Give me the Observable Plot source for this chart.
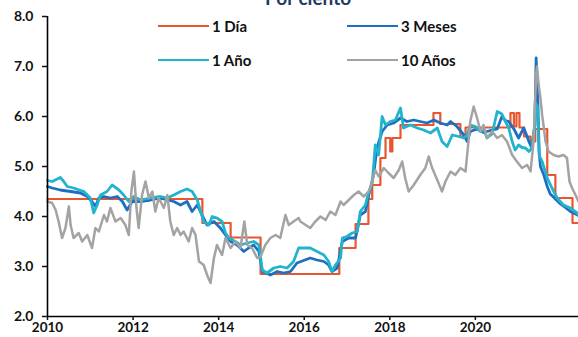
<!DOCTYPE html>
<html>
<head>
<meta charset="utf-8">
<script src="https://cdn.jsdelivr.net/npm/d3@7"></script>
<script src="https://cdn.jsdelivr.net/npm/@observablehq/plot@0.6"></script>
<style>
  html, body { margin: 0; padding: 0; background: #fff; }
  #wrap { position: relative; width: 578px; height: 337px; overflow: hidden; font-family: Lato, "DejaVu Sans", sans-serif; }
  .title { position: absolute; left: 0; width: 616px; text-align: center; top: -12px; font-size: 19px; font-weight: 700; color: #1f3864; line-height: 19px; }
  .lg-line { position: absolute; height: 2px; width: 51px; }
  .lg-text { position: absolute; font-size: 15px; font-weight: 700; color: #111; line-height: 18px; }
</style>
</head>
<body>
<div id="wrap">
  <div id="chart"></div>
  <div class="title">Por ciento</div>
  <div id="legend"></div>
</div>
<script>
// ---- data (year, percent) ----
const seriesNames = ["1 Día", "3 Meses", "1 Año", "10 Años"];
const seriesColors = ["#e8552f", "#1f6fc0", "#22b4cc", "#a3a3a3"];
const yTicks = [2, 3, 4, 5, 6, 7, 8];
const xTicks = [2010, 2012, 2014, 2016, 2018, 2020];

const dia1 = [
  [2010.00, 4.35], [2013.62, 3.87], [2014.28, 3.58], [2014.98, 2.85], [2016.82, 3.37],
  [2017.20, 3.85], [2017.50, 4.35], [2017.59, 4.63], [2017.78, 5.17], [2017.90, 5.57],
  [2018.01, 5.30], [2018.06, 5.57], [2018.25, 5.83], [2019.02, 6.07], [2019.18, 5.85],
  [2019.65, 5.60], [2019.77, 5.78], [2020.82, 6.07], [2020.90, 5.80], [2020.96, 6.07],
  [2021.03, 5.78], [2021.14, 5.60], [2021.29, 5.50], [2021.40, 5.75], [2021.68, 4.83],
  [2021.87, 4.37], [2022.27, 3.87], [2022.41, 3.87]
];

const meses3 = [
  [2010.00, 4.60], [2010.11, 4.57], [2010.30, 4.53], [2010.54, 4.50], [2010.77, 4.47], [2010.93, 4.40],
  [2011.04, 4.30], [2011.12, 4.20], [2011.20, 4.37], [2011.32, 4.40], [2011.47, 4.37],
  [2011.63, 4.40], [2011.75, 4.30], [2011.86, 4.13], [2011.98, 4.30], [2012.17, 4.30],
  [2012.41, 4.33], [2012.64, 4.37], [2012.80, 4.33], [2012.95, 4.30], [2013.11, 4.23],
  [2013.26, 4.30], [2013.38, 4.10], [2013.50, 4.23], [2013.61, 4.03], [2013.73, 3.83],
  [2013.89, 3.90], [2014.04, 3.77], [2014.16, 3.63], [2014.28, 3.50], [2014.43, 3.43],
  [2014.59, 3.30], [2014.70, 3.37], [2014.82, 3.43], [2014.94, 3.30], [2015.02, 2.90],
  [2015.21, 2.83], [2015.37, 2.90], [2015.52, 2.87], [2015.68, 2.90], [2015.83, 3.07],
  [2016.14, 3.17], [2016.30, 3.13], [2016.46, 3.10], [2016.57, 3.03], [2016.65, 2.90],
  [2016.77, 2.97], [2016.89, 3.50], [2017.04, 3.57], [2017.20, 3.57], [2017.31, 4.03],
  [2017.43, 4.10], [2017.51, 4.43], [2017.62, 4.83], [2017.70, 5.37], [2017.82, 5.70],
  [2017.94, 5.83], [2018.09, 5.87], [2018.25, 5.97], [2018.40, 5.90], [2018.56, 5.93],
  [2018.71, 5.90], [2018.87, 5.87], [2019.03, 5.93], [2019.18, 5.87], [2019.34, 5.83],
  [2019.42, 5.90], [2019.57, 5.80], [2019.73, 5.63], [2019.81, 5.50], [2019.88, 5.70],
  [2020.04, 5.75], [2020.19, 5.68], [2020.35, 5.72], [2020.51, 5.75], [2020.62, 6.00],
  [2020.70, 5.92], [2020.78, 5.90], [2020.90, 5.75], [2021.01, 5.57], [2021.13, 5.77],
  [2021.21, 5.60], [2021.25, 5.50], [2021.32, 5.37], [2021.39, 5.83], [2021.42, 7.17],
  [2021.46, 6.30], [2021.49, 5.30], [2021.52, 5.00], [2021.60, 4.83], [2021.68, 4.60],
  [2021.75, 4.45], [2021.87, 4.35], [2021.99, 4.25], [2022.10, 4.18], [2022.22, 4.10],
  [2022.34, 4.05], [2022.41, 4.02]
];

const anio1 = [
  [2010.00, 4.72], [2010.11, 4.70], [2010.30, 4.78], [2010.38, 4.70], [2010.46, 4.60], [2010.61, 4.57],
  [2010.85, 4.50], [2011.00, 4.37], [2011.08, 4.07], [2011.16, 4.23], [2011.24, 4.43],
  [2011.39, 4.50], [2011.51, 4.63], [2011.67, 4.53], [2011.78, 4.43], [2011.90, 4.30],
  [2012.02, 4.40], [2012.17, 4.33], [2012.41, 4.37], [2012.64, 4.40], [2012.80, 4.37],
  [2012.95, 4.43], [2013.11, 4.50], [2013.26, 4.55], [2013.38, 4.50], [2013.50, 4.33],
  [2013.57, 4.13], [2013.65, 3.90], [2013.77, 3.83], [2013.85, 4.00], [2013.96, 3.97],
  [2014.08, 3.90], [2014.16, 3.67], [2014.24, 3.57], [2014.39, 3.50], [2014.51, 3.43],
  [2014.67, 3.47], [2014.82, 3.50], [2014.94, 3.43], [2015.02, 2.93], [2015.13, 2.87],
  [2015.29, 2.97], [2015.44, 3.00], [2015.60, 2.97], [2015.75, 3.10], [2015.87, 3.37],
  [2016.14, 3.37], [2016.30, 3.30], [2016.46, 3.23], [2016.57, 3.10], [2016.65, 2.90],
  [2016.73, 3.03], [2016.85, 3.17], [2016.89, 3.57], [2017.00, 3.60], [2017.12, 3.67],
  [2017.24, 3.70], [2017.31, 4.10], [2017.43, 4.23], [2017.51, 4.50], [2017.59, 4.67],
  [2017.66, 5.43], [2017.74, 5.23], [2017.82, 6.00], [2017.90, 5.83], [2018.01, 5.90],
  [2018.13, 5.93], [2018.25, 6.17], [2018.32, 5.77], [2018.48, 5.83], [2018.64, 5.77],
  [2018.79, 5.73], [2018.95, 5.67], [2019.11, 5.77], [2019.22, 5.50], [2019.34, 5.40],
  [2019.46, 5.63], [2019.61, 5.60], [2019.73, 5.57], [2019.81, 5.63], [2019.88, 5.83],
  [2020.00, 5.80], [2020.12, 5.70], [2020.20, 5.75], [2020.27, 5.57], [2020.39, 5.65],
  [2020.51, 6.10], [2020.62, 6.05], [2020.70, 5.90], [2020.78, 5.77], [2020.86, 5.50],
  [2020.93, 5.33], [2021.01, 5.43], [2021.09, 5.38], [2021.17, 5.37], [2021.25, 5.30],
  [2021.32, 5.37], [2021.39, 5.83], [2021.40, 6.27], [2021.45, 6.20], [2021.49, 5.23],
  [2021.56, 5.10], [2021.68, 4.77], [2021.79, 4.57], [2021.91, 4.37], [2022.06, 4.23],
  [2022.22, 4.17], [2022.38, 4.07], [2022.41, 4.03]
];

const anios10 = [
  [2010.00, 4.30], [2010.11, 4.27], [2010.19, 4.13], [2010.26, 3.90], [2010.34, 3.57], [2010.42, 3.77],
  [2010.50, 4.20], [2010.54, 3.83], [2010.61, 3.57], [2010.73, 3.67], [2010.81, 3.50],
  [2010.93, 3.63], [2011.04, 3.37], [2011.12, 3.77], [2011.20, 3.70], [2011.32, 4.03],
  [2011.39, 3.90], [2011.47, 4.17], [2011.59, 3.90], [2011.71, 3.97], [2011.82, 3.83],
  [2011.90, 3.63], [2011.96, 4.50], [2012.02, 4.90], [2012.08, 4.17], [2012.13, 3.77],
  [2012.21, 4.43], [2012.29, 4.70], [2012.37, 4.37], [2012.45, 4.50], [2012.52, 4.10],
  [2012.60, 4.37], [2012.72, 4.17], [2012.80, 4.43], [2012.87, 3.90], [2012.95, 3.63],
  [2013.03, 3.77], [2013.11, 3.63], [2013.18, 3.70], [2013.30, 3.50], [2013.38, 3.77],
  [2013.46, 3.63], [2013.54, 3.10], [2013.65, 3.03], [2013.73, 2.83], [2013.81, 2.67],
  [2013.89, 3.17], [2013.96, 3.43], [2014.08, 3.23], [2014.16, 3.57], [2014.28, 3.37],
  [2014.39, 3.50], [2014.51, 3.37], [2014.60, 3.90], [2014.67, 3.43], [2014.78, 3.37],
  [2014.90, 3.17], [2014.98, 3.20], [2015.09, 3.43], [2015.21, 3.57], [2015.33, 3.63],
  [2015.44, 3.57], [2015.56, 4.03], [2015.64, 3.83], [2015.75, 3.90], [2015.87, 3.97],
  [2015.91, 3.90], [2016.14, 3.77], [2016.26, 3.90], [2016.38, 4.00], [2016.50, 3.93],
  [2016.61, 4.10], [2016.73, 4.03], [2016.85, 4.30], [2016.92, 4.23], [2017.04, 4.33],
  [2017.16, 4.43], [2017.27, 4.50], [2017.39, 4.40], [2017.51, 4.50], [2017.59, 4.70],
  [2017.66, 4.93], [2017.74, 4.80], [2017.86, 4.97], [2017.97, 4.87], [2018.09, 4.77],
  [2018.21, 4.93], [2018.29, 5.10], [2018.36, 4.77], [2018.44, 4.50], [2018.56, 4.63],
  [2018.71, 4.83], [2018.83, 4.97], [2018.91, 5.20], [2018.99, 4.97], [2019.11, 4.73],
  [2019.22, 4.50], [2019.30, 4.70], [2019.42, 4.90], [2019.53, 4.83], [2019.65, 4.97],
  [2019.77, 4.90], [2019.83, 5.43], [2019.88, 5.90], [2019.96, 6.20], [2020.04, 5.97],
  [2020.12, 5.70], [2020.19, 5.83], [2020.27, 5.57], [2020.39, 5.70], [2020.51, 5.57],
  [2020.62, 5.63], [2020.74, 5.50], [2020.86, 5.23], [2020.97, 5.10], [2021.09, 4.97],
  [2021.21, 5.03], [2021.29, 4.90], [2021.36, 5.50], [2021.42, 6.83], [2021.44, 7.00],
  [2021.48, 6.63], [2021.52, 6.37], [2021.56, 6.03], [2021.60, 5.77], [2021.64, 5.50],
  [2021.71, 5.30], [2021.83, 5.23], [2021.94, 5.20], [2022.06, 5.23], [2022.14, 5.17],
  [2022.20, 4.70], [2022.26, 4.57], [2022.34, 4.43], [2022.41, 4.30]
];

const seriesData = [dia1, meses3, anio1, anios10];

// ---- chart ----
const lineMark = (data, i, opts = {}) =>
  Plot.line(data, {x: d => d[0], y: d => d[1], stroke: seriesColors[i], strokeWidth: 2.8, ...opts});

const chart = Plot.plot({
  width: 578,
  height: 337,
  marginLeft: 47,
  marginRight: 0,
  marginTop: 16,
  marginBottom: 21,
  style: {fontFamily: "Lato, 'DejaVu Sans', sans-serif", fontSize: "14px", fontWeight: 700, color: "#111", background: "#fff", overflow: "visible"},
  x: {domain: [2010, 2022.41]},
  y: {domain: [2, 8]},
  marks: [
    lineMark(dia1, 0, {curve: "step-after", strokeWidth: 2.2}),
    lineMark(meses3, 1),
    lineMark(anio1, 2),
    lineMark(anios10, 3, {strokeWidth: 2.5}),
    Plot.axisY({ticks: yTicks, tickFormat: d => d.toFixed(1), tickSize: 5, tickPadding: 9, label: null, strokeWidth: 1.5}),
    Plot.axisX({ticks: xTicks, tickFormat: d => String(d), tickSize: 4, tickPadding: 2, label: null, strokeWidth: 1.5, fontSize: 13.5}),
    Plot.ruleX([2010], {stroke: "#000", strokeWidth: 1.6}),
    Plot.ruleY([2], {stroke: "#000", strokeWidth: 1.6})
  ]
});
document.getElementById("chart").appendChild(chart);

// ---- legend ----
const legendPos = [[158, 26], [347, 26], [158, 60], [347, 60]];
const legend = document.getElementById("legend");
seriesNames.forEach((name, i) => {
  const [lx, ly] = legendPos[i];
  const ln = document.createElement("div");
  ln.className = "lg-line";
  ln.style.left = lx + "px";
  ln.style.top = (ly - 1) + "px";
  ln.style.background = seriesColors[i];
  legend.appendChild(ln);
  const tx = document.createElement("div");
  tx.className = "lg-text";
  tx.style.left = (lx + 54) + "px";
  tx.style.top = (ly - 9) + "px";
  tx.textContent = name;
  legend.appendChild(tx);
});
</script>
</body>
</html>
